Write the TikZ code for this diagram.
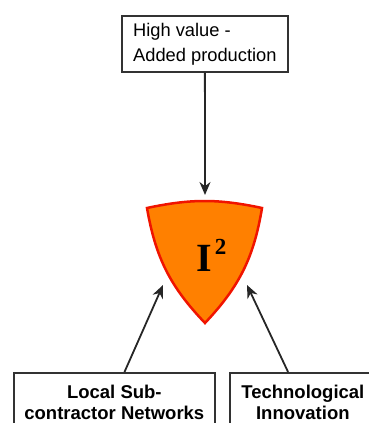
\documentclass[tikz,border=0pt]{standalone}
\usepackage{fontspec}
\setmainfont{Liberation Sans}
\newfontfamily\romanI{Liberation Serif}
\usetikzlibrary{arrows.meta,calc}
\definecolor{shieldorange}{RGB}{255,128,0}
\definecolor{shieldred}{RGB}{240,20,0}
\definecolor{edgegray}{RGB}{50,50,50}

\begin{document}
\begin{tikzpicture}[x=1pt,y=1pt,
    factor/.style ={draw=edgegray, line width=1.7pt, fill=white, anchor=north west,
      font=\fontsize{18.5}{21}\selectfont\bfseries, align=center, inner ysep=12pt},
    goal/.style ={draw=edgegray, line width=1.7pt, anchor=north west,
      font=\fontsize{18.3}{25}\selectfont, align=left},
    feed/.style ={draw=black!85, line width=1.8pt, -{Stealth[length=13pt,width=11pt]}}]
   \useasboundingbox (0,0) rectangle (368,423);
   \node[goal, minimum width=166pt, minimum height=56pt] (high) at (121,408) {High value -\\Added production};
   \draw[fill=shieldorange, draw=shieldred, line width=2.5pt]
      (147,215) to[bend left=12] (262,215) to[bend left=17] (205,100) to[bend left=17] cycle;
   \node[anchor=base west, inner sep=0pt] (isq) at (196,151)
      {\romanI\bfseries\fontsize{40}{40}\selectfont I\kern3pt\raisebox{17pt}{\fontsize{23}{23}\selectfont 2}};
   \coordinate (tip) at (205,228);
   \coordinate (hitL) at (163,138);
   \coordinate (hitR) at (247,138);
   \node[factor, minimum width=201pt] (local) at (13,51) {Local Sub-\\contractor Networks};
   \node[factor, minimum width=146pt] (tech) at (229,51) {Technological\\Innovation};
   \draw[feed] (high) -- (tip);
   \draw[feed] ($(local.north west)!0.55!(local.north east)$) -- (hitL);
   \draw[feed] ($(tech.north west)!0.4!(tech.north east)$) -- (hitR);
\end{tikzpicture}
\end{document}
